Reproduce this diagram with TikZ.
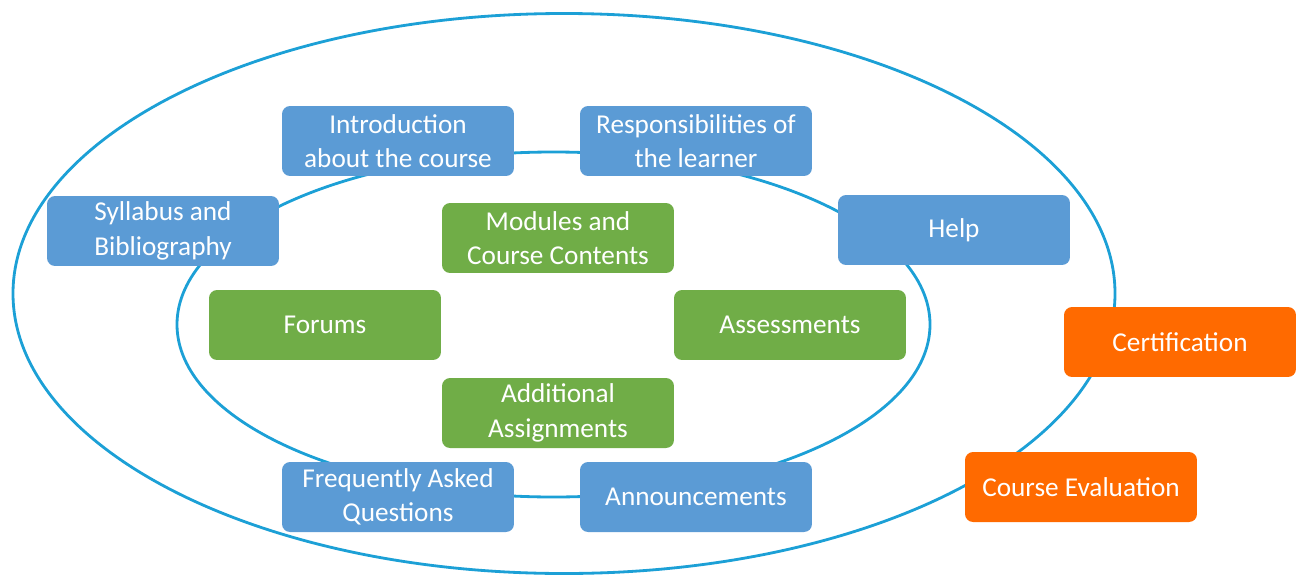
\documentclass[tikz,border=0pt]{standalone}
\usepackage{fontspec}
\setmainfont{Carlito}
\usepackage{xcolor}
\usepackage{tikz}
\usetikzlibrary{positioning, calc}

\definecolor{ringblue}{RGB}{28,160,214}
\definecolor{boxblue}{RGB}{91,155,213}
\definecolor{boxgreen}{RGB}{112,173,71}
\definecolor{boxorange}{RGB}{255,106,0}

\tikzstyle{ring} = [draw=ringblue, line width=1.6pt]
\tikzstyle{box} = [rounded corners=0.16cm, minimum width=4.64cm, minimum height=1.4cm, align=center, text=white, font=\fontsize{15.5}{19.5}\selectfont, inner sep=2pt]
\tikzstyle{bluebox} = [box, fill=boxblue]
\tikzstyle{greenbox} = [box, fill=boxgreen]
\tikzstyle{orangebox} = [box, fill=boxorange]

\begin{document}
\begin{tikzpicture}[x=0.02cm, y=-0.02cm]

\useasboundingbox (0, 0) rectangle (1298, 575);

% Rings
\coordinate (outer) at (564, 293.5);
\coordinate (inner) at (553.5, 324.5);
\draw [ring] (outer) ellipse [x radius=551*0.02cm, y radius=280*0.02cm];
\draw [ring] (inner) ellipse [x radius=376.5*0.02cm, y radius=172.5*0.02cm];

% Outer boxes
\node [bluebox] (intro) at (398, 141) {Introduction\\about the course};
\node [bluebox] (resp) at (696, 141) {Responsibilities of\\the learner};
\node [bluebox] (syll) at (163, 231) {Syllabus and\\Bibliography};
\node [bluebox] (help) at (954, 230) {Help};
\node [bluebox] (faq) at (398, 497) {Frequently Asked\\Questions};
\node [bluebox] (ann) at (696, 497) {Announcements};

% Inner boxes
\node [greenbox] (mod) at (558, 238) {Modules and\\Course Contents};
\node [greenbox] (forums) at (325, 325) {Forums};
\node [greenbox] (assess) at (790, 325) {Assessments};
\node [greenbox] (addl) at (558, 413) {Additional\\Assignments};

% Final steps
\node [orangebox] (cert) at (1180, 342) {Certification};
\node [orangebox] (eval) at (1081, 487) {Course Evaluation};

\end{tikzpicture}
\end{document}
